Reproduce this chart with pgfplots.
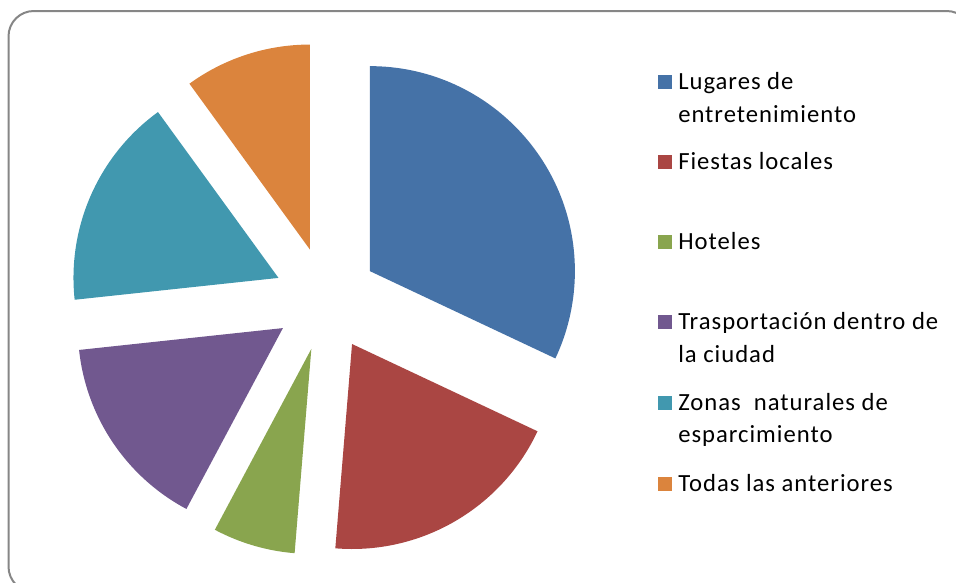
\documentclass[border=0pt]{standalone}
\usepackage{pgfplots}
\pgfplotsset{compat=1.18}
\usepackage{fontspec}
\setmainfont{Carlito}[LetterSpace=4]

\definecolor{c1}{RGB}{69,114,167}
\definecolor{c2}{RGB}{170,70,67}
\definecolor{c3}{RGB}{137,165,78}
\definecolor{c4}{RGB}{113,88,143}
\definecolor{c5}{RGB}{65,152,175}
\definecolor{c6}{RGB}{219,132,61}
\definecolor{frame}{RGB}{134,134,134}

% pie geometry in pixel units (y downwards)
\def\cx{326}\def\cy{299}\def\dexp{52}
\def\rad{153.75pt}% 205 px
\xdef\runang{90}

% one exploded slice: percent, colour
\newcommand\slice[2]{%
  \pgfmathsetmacro\sa{\runang}%
  \pgfmathsetmacro\ea{\runang-3.6*#1}%
  \pgfmathsetmacro\ma{(\sa+\ea)/2}%
  \pgfmathsetmacro\ax{\cx+\dexp*cos(\ma)}%
  \pgfmathsetmacro\ay{\cy-\dexp*sin(\ma)}%
  \xdef\runang{\ea}%
  \edef\temp{\noexpand\fill[#2] (axis cs:\ax,\ay) -- ++(\sa:\rad)
    arc[start angle=\sa, end angle=\ea, radius=\rad] -- cycle;}%
  \temp}

\tikzset{legtext/.style={anchor=base west, inner sep=0pt,
  font=\fontsize{18.5}{20}\selectfont}}

% legend entry: baseline (px), colour, text
\newcommand\legentry[3]{%
  \fill[#2] (axis cs:658,#1-14) rectangle (axis cs:672,#1);
  \node[legtext] at (axis cs:678,#1) {#3};}

\begin{document}
\begin{tikzpicture}
\begin{axis}[
  x=0.75pt, y=0.75pt,
  xmin=0, xmax=956, ymin=0, ymax=582,
  y dir=reverse,
  hide axis, scale only axis, clip=true]
\path (axis cs:0,0) rectangle (axis cs:956,582);
\draw[frame, line width=1.5pt, rounded corners=19pt]
  (axis cs:8.5,11) rectangle (axis cs:972,592);

\slice{32}{c1}
\slice{19.3}{c2}
\slice{6.5}{c3}
\slice{15.5}{c4}
\slice{16.7}{c5}
\slice{10}{c6}

\legentry{89}{c1}{Lugares de}
\node[legtext] at (axis cs:678,122) {entretenimiento};
\legentry{169}{c2}{Fiestas locales}
\legentry{249}{c3}{Hoteles}
\legentry{329}{c4}{Trasportación dentro de}
\node[legtext] at (axis cs:678,362) {la ciudad};
\legentry{410}{c5}{Zonas\ \ naturales de}
\node[legtext] at (axis cs:678,442) {esparcimiento};
\legentry{491}{c6}{Todas las anteriores}
\end{axis}
\end{tikzpicture}
\end{document}
